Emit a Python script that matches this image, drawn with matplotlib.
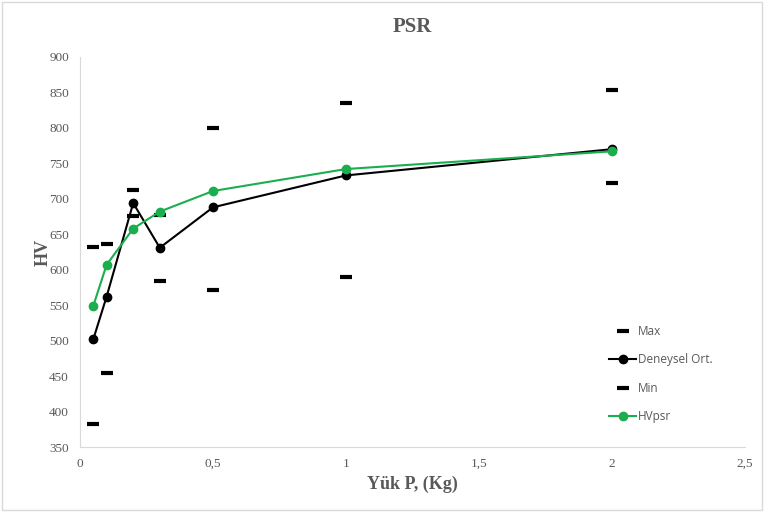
import numpy as np
import matplotlib.pyplot as plt
from matplotlib.ticker import FuncFormatter

# load values (Kg)
load = [0.05, 0.1, 0.2, 0.3, 0.5, 1, 2]
hv_max = [632, 636, 713, 677, 800, 835, 853]
hv_mean = [502, 562, 694, 631, 688, 733, 770]
hv_min = [382, 454, 676, 584, 572, 590, 722]
hv_psr = [549, 607, 658, 682, 711, 742, 767]

grey = "#595959"
serif = "Liberation Serif"

fig = plt.figure(figsize=(7.64, 5.12), dpi=100)
ax = fig.add_axes([80/764, 1 - 447/512, 665/764, 390/512])

ax.plot(load, hv_max, linestyle="none", marker="_", markersize=9,
        markeredgewidth=3, color="black", label="Max")
ax.plot(load, hv_mean, color="black", linewidth=1.5, marker="o",
        markersize=6, label="Deneysel Ort.")
ax.plot(load, hv_min, linestyle="none", marker="_", markersize=9,
        markeredgewidth=3, color="black", label="Min")
ax.plot(load, hv_psr, color="#1AAE4E", linewidth=1.5, marker="o",
        markersize=6, label="HVpsr")

ax.set_xlim(0, 2.5)
ax.set_ylim(350, 900)
ax.set_xticks(np.arange(0, 2.51, 0.5))
ax.set_yticks(np.arange(350, 901, 50))
ax.xaxis.set_major_formatter(FuncFormatter(lambda v, p: ("%g" % v).replace(".", ",")))

for s in ["top", "right"]:
    ax.spines[s].set_visible(False)
for s in ["left", "bottom"]:
    ax.spines[s].set_color("#D9D9D9")
ax.tick_params(length=0, labelsize=9.5, labelcolor=grey, pad=8)
for lab in ax.get_xticklabels() + ax.get_yticklabels():
    lab.set_fontfamily(serif)

ax.set_title("PSR", fontsize=15, fontweight="bold", color=grey,
             fontfamily=serif, pad=18)
ax.set_xlabel("Yük P, (Kg)", fontsize=13, fontweight="bold", color=grey,
              fontfamily=serif, labelpad=4)
ax.set_ylabel("HV", fontsize=13, fontweight="bold", color=grey,
              fontfamily=serif, labelpad=-2)

leg = ax.legend(loc="upper left", bbox_to_anchor=(0.78, 0.34), frameon=False,
                labelspacing=1.3, handlelength=2.3, handletextpad=0.1,
                prop={"family": "Open Sans", "size": 8.5})
for t in leg.get_texts():
    t.set_color(grey)

fig.patches.append(plt.Rectangle((0.003, 0.003), 0.994, 0.994, transform=fig.transFigure,
                                 fill=False, edgecolor="#D9D9D9", linewidth=1))

fig.savefig("out.png", dpi=100)
